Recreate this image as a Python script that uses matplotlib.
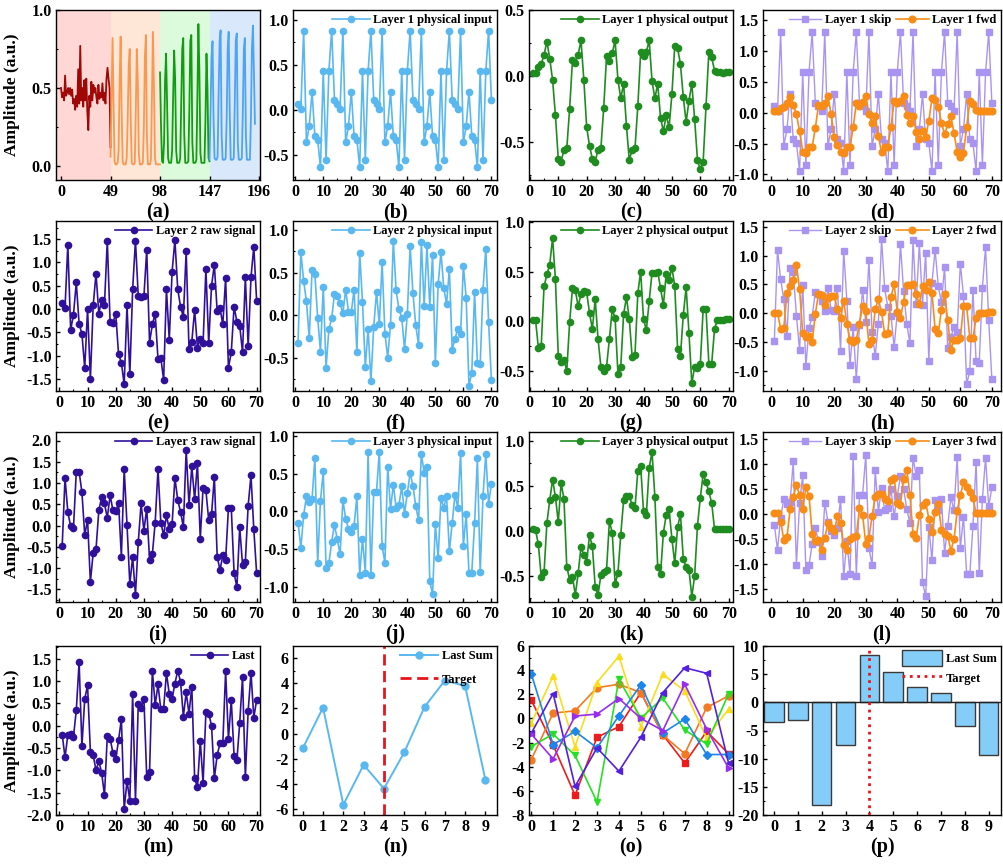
import numpy as np
import matplotlib
matplotlib.use('Agg')
import matplotlib.pyplot as plt
from matplotlib.ticker import MultipleLocator, AutoMinorLocator

plt.rcParams['font.family'] = ['Liberation Serif', 'DejaVu Serif']
plt.rcParams['font.weight'] = 'bold'
plt.rcParams['axes.labelweight'] = 'bold'
plt.rcParams['axes.unicode_minus'] = False

# ---------------- data ----------------
# (a) raw signal, four segments
seg_red = [0.50, 0.44, 0.47, 0.42, 0.58, 0.45, 0.47, 0.50, 0.46, 0.50,
           0.45, 0.49, 0.40, 0.43, 0.36, 0.45, 0.38, 0.62, 0.40, 0.77,
           0.42, 0.50, 0.38, 0.55, 0.42, 0.56, 0.35, 0.23, 0.45, 0.38,
           0.54, 0.42, 0.52, 0.47, 0.50, 0.44, 0.40, 0.52, 0.43, 0.47,
           0.44, 0.53, 0.42, 0.47, 0.40, 0.56, 0.63, 0.56, 0.50, 0.12]
seg_orange = [0.06, 0.45, 0.82, 0.40, 0.03, 0.01, 0.01, 0.02, 0.10, 0.55,
              0.83, 0.35, 0.03, 0.01, 0.01, 0.01, 0.05, 0.30, 0.65, 0.75,
              0.30, 0.02, 0.01, 0.01, 0.02, 0.35, 0.75, 0.55, 0.08, 0.01,
              0.01, 0.01, 0.02, 0.25, 0.70, 0.84, 0.20, 0.01, 0.01, 0.01,
              0.04, 0.45, 0.86, 0.50, 0.05, 0.01, 0.01, 0.01, 0.01, 0.01]
seg_green = [0.60, 0.25, 0.03, 0.02, 0.15, 0.55, 0.72, 0.40, 0.05, 0.02,
             0.02, 0.02, 0.10, 0.45, 0.74, 0.55, 0.10, 0.02, 0.02, 0.02,
             0.05, 0.40, 0.75, 0.82, 0.20, 0.02, 0.02, 0.02, 0.03, 0.35,
             0.80, 0.84, 0.15, 0.02, 0.02, 0.02, 0.04, 0.45, 0.91, 0.60,
             0.08, 0.02, 0.02, 0.02, 0.02, 0.30, 0.72, 0.50, 0.05, 0.03]
seg_blue = [0.04, 0.35, 0.70, 0.80, 0.30, 0.05, 0.04, 0.04, 0.06, 0.45,
            0.80, 0.87, 0.20, 0.04, 0.04, 0.04, 0.05, 0.30, 0.75, 0.86,
            0.35, 0.04, 0.04, 0.04, 0.05, 0.40, 0.80, 0.85, 0.15, 0.04,
            0.04, 0.04, 0.05, 0.35, 0.75, 0.82, 0.20, 0.04, 0.04, 0.04,
            0.04, 0.30, 0.75, 0.90, 0.60, 0.27]
seg_starts = [0, 49, 98, 147]

# layer 1
l1_input = [0.07, 0.01, 0.88, -0.36, -0.18, 0.20, -0.29, -0.33, -0.64, 0.43, -0.56, 0.43, 0.88, 0.11,
            0.07, 0.01, 0.88, -0.36, -0.18, 0.20, -0.29, -0.33, -0.64, 0.43, -0.56, 0.43, 0.88, 0.11,
            0.07, 0.01, 0.88, -0.36, -0.18, 0.20, -0.29, -0.33, -0.64, 0.43, -0.56, 0.43, 0.88, 0.11,
            0.07, 0.01, 0.88, -0.36, -0.18, 0.20, -0.29, -0.33, -0.64, 0.43, -0.56, 0.43, 0.88, 0.11,
            0.07, 0.01, 0.88, -0.36, -0.18, 0.20, -0.29, -0.33, -0.64, 0.43, -0.56, 0.43, 0.88, 0.11]
l1_output = [0.02, 0.02, 0.07, 0.09, 0.16, 0.26, 0.13, -0.03, -0.30, -0.63,
             -0.65, -0.56, -0.55, -0.25, 0.12, 0.10, 0.16, 0.27, -0.03, -0.39,
             -0.53, -0.63, -0.65, -0.56, -0.55, -0.24, 0.15, 0.11, 0.17, 0.27,
             -0.03, -0.17, -0.06, -0.38, -0.64, -0.56, -0.55, -0.23, 0.18, 0.15,
             0.18, 0.27, -0.04, -0.17, -0.06, -0.32, -0.42, -0.30, -0.39, -0.14,
             0.23, 0.21, 0.09, -0.16, -0.35, -0.19, -0.06, -0.33, -0.64, -0.71,
             -0.65, -0.23, 0.18, 0.14, 0.04, 0.03, 0.03, 0.02, 0.03, 0.03]
l1_skip = [0.10, 0.02, 1.30, -0.54, -0.27, 0.30, -0.43, -0.49, -0.95, 0.65, -0.84, 0.65, 1.30, 0.16,
           0.10, 0.02, 1.30, -0.54, -0.27, 0.30, -0.43, -0.49, -0.95, 0.65, -0.84, 0.65, 1.30, 0.16,
           0.10, 0.02, 1.30, -0.54, -0.27, 0.30, -0.43, -0.49, -0.95, 0.65, -0.84, 0.65, 1.30, 0.16,
           0.10, 0.02, 1.30, -0.54, -0.27, 0.30, -0.43, -0.49, -0.95, 0.65, -0.84, 0.65, 1.30, 0.16,
           0.10, 0.02, 1.30, -0.54, -0.27, 0.30, -0.43, -0.49, -0.95, 0.65, -0.84, 0.65, 1.30, 0.16]

# layer 2
l2_raw = [0.12, 0.02, 1.38, -0.45, -0.12, 0.57, -0.32, -0.53, -1.27, 0.00,
          -1.50, 0.08, 0.76, -0.10, 0.20, 0.09, 1.47, -0.28, -0.30, -0.10,
          -0.97, -1.15, -1.62, 0.08, -1.40, 0.42, 1.47, 0.27, 0.26, 0.27,
          1.27, -0.72, -0.33, -0.10, -1.08, -1.05, -1.52, 0.42, -0.66, 0.80,
          1.48, 0.43, 0.05, -0.17, 1.24, -0.86, -0.70, -0.02, -0.83, -0.64,
          -0.73, 0.86, -0.74, 0.50, 0.95, -0.05, 0.02, -0.33, 0.66, -1.26,
          -0.93, 0.05, -0.27, -0.36, -0.93, 0.68, -0.80, 0.68, 1.34, 0.18]
l2_input = [-0.33, 0.74, 0.40, 0.16, -0.27, 0.53, 0.48, -0.03, -0.43, 0.33,
            -0.62, -0.17, -0.04, 0.25, 0.22, 0.14, 0.02, 0.30, 0.04, 0.03,
            0.30, -0.44, 0.73, 0.15, -0.61, -0.16, -0.78, -0.14, 0.27, -0.11,
            0.62, -0.22, -0.50, -0.12, 0.87, 0.29, 0.07, -0.03, -0.40, 0.01,
            0.81, 0.26, -0.12, -0.35, 0.86, 0.11, 0.82, 0.10, 0.71, -0.56,
            0.36, 0.74, 0.32, 0.13, 0.54, -0.41, -0.28, -0.16, -0.22, 0.58,
            0.20, -0.83, -0.68, 0.27, -0.56, -0.58, 0.30, 0.78, -0.08, -0.77]
l2_output = [0.01, 0.01, -0.27, -0.25, 0.35, 0.47, 0.57, 0.84, 0.42, -0.35,
             -0.41, -0.39, -0.50, -0.01, 0.33, 0.31, 0.15, 0.27, 0.30, 0.29,
             0.08, -0.08, 0.22, -0.18, -0.46, -0.50, -0.46, -0.18, 0.12, 0.03,
             -0.53, -0.46, 0.07, 0.24, 0.02, -0.36, -0.34, 0.28, 0.50, 0.02,
             -0.09, 0.20, 0.49, 0.49, 0.50, 0.33, 0.16, 0.48, 0.41, 0.54,
             0.35, -0.28, -0.35, 0.06, 0.34, -0.12, -0.63, -0.46, -0.47, -0.43,
             0.12, 0.12, -0.43, -0.43, -0.08, 0.01, 0.01, 0.01, 0.02, 0.02]
l2_skip = [-0.49, 1.10, 0.59, 0.24, -0.40, 0.78, 0.71, -0.04, -0.64, 0.49,
           -0.92, -0.25, -0.06, 0.37, 0.33, 0.21, 0.03, 0.44, 0.06, 0.04,
           0.44, -0.65, 1.08, 0.22, -0.90, -0.24, -1.15, -0.21, 0.40, -0.16,
           0.92, -0.33, -0.74, -0.18, 1.29, 0.43, 0.10, -0.04, -0.59, 0.01,
           1.20, 0.38, -0.18, -0.52, 1.27, 0.16, 1.21, 0.15, 1.05, -0.83,
           0.53, 1.10, 0.47, 0.19, 0.80, -0.61, -0.41, -0.24, -0.33, 0.86,
           0.30, -1.23, -1.01, 0.40, -0.83, -0.86, 0.44, 1.15, -0.12, -1.14]

# layer 3
l3_raw = [-0.48, 1.12, 0.32, -0.02, -0.06, 1.27, 1.27, 0.78, -0.23, 0.14,
          -1.33, -0.64, -0.56, 0.36, 0.66, 0.52, 0.18, 0.71, 0.36, 0.34,
          0.53, -0.73, 1.33, 0.02, -1.38, -0.74, -1.63, -0.39, 0.52, -0.12,
          0.40, -0.80, -0.67, 0.07, 1.33, 0.07, -0.23, 0.24, -0.09, 0.03,
          1.12, 0.60, 0.32, -0.04, 1.78, 0.48, 1.39, 0.62, 1.47, -0.31,
          0.89, 0.83, 0.12, 0.26, 1.15, -0.73, -1.05, -0.70, -0.81, 0.42,
          0.42, -1.12, -1.45, -0.04, -0.92, -0.85, 0.47, 1.18, -0.09, -1.12]
l3_input = [-0.15, -0.48, -0.05, 0.20, 0.13, 0.16, 0.71, -0.69, 0.14, 0.53,
            -0.75, -0.69, -0.40, -0.18, -0.37, -0.57, 0.15, -0.10, -0.23, -0.28,
            -0.19, 0.20, -0.84, -0.36, -0.81, 0.78, -0.84, 0.25, 0.26, 0.79,
            -0.46, -0.68, 0.59, 0.03, 0.35, 0.05, 0.08, 0.33, -0.03, 0.24,
            0.51, 0.34, 0.07, -0.12, 0.76, 0.51, 0.59, -0.92, -1.10, -0.17,
            -0.62, 0.18, 0.05, 0.20, -0.53, -0.16, 0.22, 0.05, 0.77, -0.46,
            -0.04, -0.81, -0.81, -0.16, 0.70, -0.80, 0.20, 0.76, 0.10, 0.36]
l3_output = [0.02, 0.01, -0.15, -0.51, -0.46, 0.09, 0.34, 0.57, 0.38, 0.10,
             0.53, 0.36, -0.40, -0.54, -0.51, -0.71, -0.47, -0.18, -0.27, -0.34,
             -0.05, -0.17, -0.62, -0.71, -0.49, -0.46, -0.43, 0.11, -0.02, -0.59,
             -0.47, -0.04, 0.34, 0.39, 0.39, 0.29, 0.25, 0.67, 0.72, 0.22,
             0.18, 0.70, 0.88, 0.38, -0.40, -0.48, -0.02, 0.18, 0.24, -0.09,
             -0.36, 0.04, 0.19, -0.31, -0.40, -0.43, -0.73, -0.50, 0.06, 0.37,
             0.63, 0.54, 0.44, 0.31, 0.02, 0.02, 0.02, 0.02, 0.02, 0.02]
l3_skip = [-0.22, -0.71, -0.07, 0.30, 0.19, 0.24, 1.05, -1.02, 0.21, 0.78,
           -1.11, -1.02, -0.59, -0.27, -0.55, -0.84, 0.22, -0.15, -0.34, -0.41,
           -0.28, 0.30, -1.24, -0.53, -1.20, 1.15, -1.24, 0.37, 0.38, 1.17,
           -0.68, -1.01, 0.87, 0.04, 0.52, 0.07, 0.12, 0.49, -0.04, 0.36,
           0.75, 0.50, 0.10, -0.18, 1.12, 0.75, 0.87, -1.36, -1.63, -0.25,
           -0.92, 0.27, 0.07, 0.30, -0.78, -0.24, 0.33, 0.07, 1.14, -0.68,
           -0.06, -1.20, -1.20, -0.24, 1.04, -1.18, 0.30, 1.12, 0.15, 0.53]

# last layer
last = [-0.20, -0.71, -0.21, -0.19, -0.25, 0.34, 1.42, -0.46, 0.60, 0.90,
        -0.58, -0.66, -1.00, -0.80, -1.05, -1.56, -0.24, -0.29, -0.61, -0.75,
        -0.33, 0.15, -1.87, -1.24, -1.68, 0.71, -1.68, 0.49, 0.39, 0.60,
        -1.15, -1.04, 1.23, 0.46, 0.92, 0.36, 0.38, 1.18, 0.70, 0.60,
        0.94, 1.23, 0.98, 0.20, 0.74, 0.27, 0.87, -1.18, -1.38, -0.34,
        -1.28, 0.30, 0.27, 0.00, -1.18, -0.66, -0.40, -0.40, 1.21, -0.30,
        0.57, -0.67, -0.78, 0.06, 1.09, -1.16, 0.33, 1.18, 0.18, 0.57]

classes = list(range(10))
last_sum = [-1.17, 2.07, -5.63, -2.47, -4.36, -1.49, 2.12, 4.21, 3.78, -3.68]
target = 4

# (o) class sums for the seven samples
o_red = [1.54, -2.2, -6.37, -1.56, -0.68, 2.14, -1.34, -3.70, -1.07, -2.93]
o_orange = [-3.43, 0.44, 0.63, 2.55, 2.83, 2.14, -1.37, -2.93, 0.91, 1.87]
o_yellow = [-0.41, 3.52, -2.33, 2.97, 5.16, -0.68, 3.66, 2.28, -1.62, 0.77]
o_green = [-2.33, -1.29, -3.07, -6.92, 3.24, 0.03, 1.68, -0.96, -2.11, 2.06]
o_blue = [3.71, -2.17, -1.07, -2.44, 0.22, 2.78, -1.20, -0.05, -2.99, -2.99]
o_indigo = [-1.24, 2.06, -5.63, -2.44, -4.37, -1.56, 2.14, 4.20, 3.74, -3.71]
o_purple = [-1.29, -3.35, 0.20, 0.36, 1.65, 0.00, -1.01, 2.83, -0.88, -4.12]

bar_sum = [-3.53, -3.12, -18.2, -7.65, 8.41, 5.41, 2.70, 1.70, -4.24, -9.35]

# ---------------- styling ----------------
c_in = '#5ab8f0'
c_out = '#1f8c1f'
c_raw = '#30109a'
c_skip = '#a994f2'
c_fwd = '#f88c16'

W, H = 1004, 866
fig = plt.figure(figsize=(W / 100, H / 100), dpi=100)

cols = [(56, 260), (293, 497), (529, 733), (763, 1001)]
rows = [(10, 180), (221, 391), (432, 602), (646, 815)]


def make_ax(r, c, tag, ylim, ystep, xlim, xticks=None):
    l, rt = cols[c]
    t, b = rows[r]
    ax = fig.add_axes([l / W, 1 - b / H, (rt - l) / W, (b - t) / H])
    ax.set_ylim(*ylim)
    ax.set_xlim(*xlim)
    ax.yaxis.set_major_locator(MultipleLocator(ystep))
    ax.yaxis.set_minor_locator(AutoMinorLocator(2))
    if xticks is None:
        ax.xaxis.set_major_locator(MultipleLocator(10))
        ax.xaxis.set_minor_locator(AutoMinorLocator(2))
    else:
        ax.set_xticks(xticks)
    ax.tick_params(which='major', direction='in', length=3, width=1, labelsize=11.5, pad=3)
    ax.tick_params(which='minor', direction='in', length=1.5, width=0.8)
    for lab in ax.get_xticklabels() + ax.get_yticklabels():
        lab.set_fontweight('bold')
    for sp in ax.spines.values():
        sp.set_linewidth(1.0)
    ax.text(0.5, -0.19, tag, transform=ax.transAxes, ha='center', va='center',
            fontsize=14.5, fontweight='bold')
    if c == 0:
        ax.set_ylabel('Amplitude (a.u.)', fontsize=12.5, fontweight='bold')
        ax.yaxis.set_label_coords(-0.175, 0.5)
    return ax


def legend(ax, handles=None, **kw):
    opts = dict(loc='upper right', frameon=False, fontsize=9, handlelength=3.0,
                handletextpad=0.3, borderaxespad=0.15, borderpad=0.2)
    opts.update(kw)
    if handles is None:
        leg = ax.legend(**opts)
    else:
        leg = ax.legend(handles=handles, **opts)
    for t in leg.get_texts():
        t.set_fontweight('bold')
    return leg


xs = np.arange(1, 71)
ms = 4.5
lw = 1.2
xl1 = (-1.2, 71.2)
xl2 = (-0.8, 72.0)
xl3 = (-0.3, 71.5)
xl4 = (-2.6, 72.9)

# (a)
ax = make_ax(0, 0, '(a)', (-0.09, 1.0), 0.5, (-5, 197), [0, 49, 98, 147, 196])
spans = [(-5, 49, '#ffd8d6'), (49, 98, '#ffe7d7'), (98, 147, '#dcfbdc'), (147, 197, '#d9e9fb')]
for a, b_, col in spans:
    ax.axvspan(a, b_, color=col, lw=0, zorder=0)
for seg, st, col in zip([seg_red, seg_orange, seg_green, seg_blue], seg_starts,
                        ['#a00808', '#fb9850', '#139c13', '#4ea4f2']):
    ax.plot(np.arange(st, st + len(seg)), seg, color=col, lw=1.3)

# (b)
ax = make_ax(0, 1, '(b)', (-0.78, 1.11), 0.5, xl2)
ax.plot(xs, l1_input, '-o', color=c_in, ms=ms, lw=lw, label='Layer 1 physical input')
legend(ax)

# (c)
ax = make_ax(0, 2, '(c)', (-0.79, 0.5), 0.5, xl3)
ax.plot(xs, l1_output, '-o', color=c_out, ms=ms, lw=lw, label='Layer 1 physical output')
legend(ax)

# (d)
ax = make_ax(0, 3, '(d)', (-1.09, 1.66), 0.5, xl4)
ax.plot(xs, l1_skip, '-s', color=c_skip, ms=ms - 0.5, lw=1.0, label='Layer 1 skip')
ax.plot(xs, l1_output, '-o', color=c_fwd, ms=ms + 0.3, lw=lw, label='Layer 1 fwd')
legend(ax, ncol=2, columnspacing=0.4, handlelength=2.6)

# (e)
ax = make_ax(1, 0, '(e)', (-1.76, 1.89), 0.5, xl1)
ax.plot(xs, l2_raw, '-o', color=c_raw, ms=ms, lw=lw, label='Layer 2 raw signal')
legend(ax)

# (f)
ax = make_ax(1, 1, '(f)', (-0.894, 1.106), 0.5, xl2)
ax.plot(xs, l2_input, '-o', color=c_in, ms=ms, lw=lw, label='Layer 2 physical input')
legend(ax)

# (g)
ax = make_ax(1, 2, '(g)', (-0.706, 1.01), 0.5, xl3)
ax.plot(xs, l2_output, '-o', color=c_out, ms=ms, lw=lw, label='Layer 2 physical output')
legend(ax)

# (h)
ax = make_ax(1, 3, '(h)', (-1.35, 1.60), 0.5, xl4)
ax.plot(xs, l2_skip, '-s', color=c_skip, ms=ms - 0.5, lw=1.0, label='Layer 2 skip')
ax.plot(xs, l2_output, '-o', color=c_fwd, ms=ms + 0.3, lw=lw, label='Layer 2 fwd')
legend(ax, ncol=2, columnspacing=0.4, handlelength=2.6)

# (i)
ax = make_ax(2, 0, '(i)', (-1.80, 2.2), 0.5, xl1)
ax.plot(xs, l3_raw, '-o', color=c_raw, ms=ms, lw=lw, label='Layer 3 raw signal')
legend(ax)

# (j)
ax = make_ax(2, 1, '(j)', (-1.2, 1.05), 0.5, xl2)
ax.plot(xs, l3_input, '-o', color=c_in, ms=ms, lw=lw, label='Layer 3 physical input')
legend(ax)

# (k)
ax = make_ax(2, 2, '(k)', (-0.79, 1.10), 0.5, xl3)
ax.plot(xs, l3_output, '-o', color=c_out, ms=ms, lw=lw, label='Layer 3 physical output')
legend(ax)

# (l)
ax = make_ax(2, 3, '(l)', (-1.75, 1.63), 0.5, xl4)
ax.plot(xs, l3_skip, '-s', color=c_skip, ms=ms - 0.5, lw=1.0, label='Layer 3 skip')
ax.plot(xs, l3_output, '-o', color=c_fwd, ms=ms + 0.3, lw=lw, label='Layer 3 fwd')
legend(ax, ncol=2, columnspacing=0.4, handlelength=2.6)

# (m)
ax = make_ax(3, 0, '(m)', (-2.0, 1.78), 0.5, xl1)
ax.plot(xs, last, '-o', color=c_raw, ms=ms, lw=lw, label='Last')
legend(ax)

# (n)
ax = make_ax(3, 1, '(n)', (-6.45, 6.95), 2, (-0.48, 9.57), classes)
ax.plot(classes, last_sum, '-o', color=c_in, ms=ms + 0.5, lw=1.4, label='Last Sum')
ax.axvline(target, color='#e8141c', lw=2, ls=(0, (4, 2)), label='Target')
legend(ax, labelspacing=0.9)

# (o)
ax = make_ax(3, 2, '(o)', (-8, 6), 2, (-0.1, 9.2), classes)
for ys, col, mk in [(o_red, '#ec1c1c', 's'), (o_orange, '#f27a22', 'o'),
                    (o_yellow, '#fadc1a', '^'), (o_green, '#27e024', 'v'),
                    (o_blue, '#1b86ec', 'D'), (o_indigo, '#5420e0', '<'),
                    (o_purple, '#9a2cf0', '>')]:
    ax.plot(classes, ys, '-', marker=mk, color=col, ms=5 if mk != 'D' else 4.3,
            lw=1.2)

# (p)
ax = make_ax(3, 3, '(p)', (-20, 10), 5, (-0.46, 9.52), classes)
bars = ax.bar(classes, bar_sum, width=0.82, color='#85cdf9', edgecolor='#3a3a3a',
              linewidth=1.0, label='Last Sum', zorder=2)
ax.axhline(0, color='#222222', lw=1.0, zorder=3)
tline = ax.axvline(target, color='#e8141c', lw=2, ls=':', label='Target', zorder=3)
legend(ax, handles=[bars, tline], handleheight=1.6, handlelength=3.2, labelspacing=0.3)

fig.savefig('out.png', dpi=100)
